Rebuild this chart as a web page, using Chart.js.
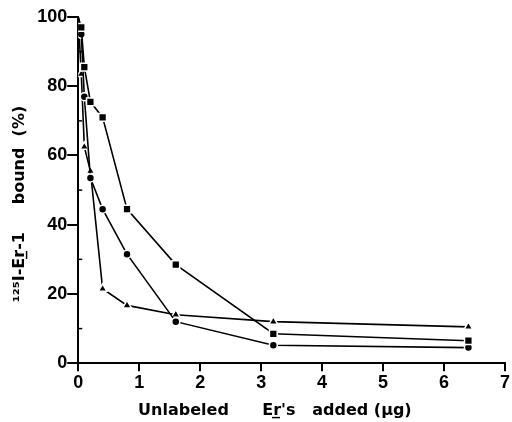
<!DOCTYPE html>
<html lang="en">
<head>
  <meta charset="UTF-8">
  <title>Er-1 binding displacement</title>
  <script src="https://cdn.jsdelivr.net/npm/chart.js"></script>
  <style>
    body { margin: 0; background: #fff; }
    .wrap { width: 512px; height: 422px; }
  </style>
</head>
<body>
  <div class="wrap"><canvas id="bindChart" width="512" height="422"></canvas></div>

  <script>
    // amount of unlabeled Er added (ug)
    const doses = [0, 0.05, 0.1, 0.2, 0.4, 0.8, 1.6, 3.2, 6.4];

    // percent bound
    const squareVals   = [100, 97, 85.5, 75.5, 71, 44.5, 28.5, 8.5, 6.5];
    const circleVals   = [100, 95, 77, 53.5, 44.5, 31.5, 12, 5.2, 4.5];
    const triangleVals = [100, 83.5, 62.5, 55.5, 21.5, 16.7, 14, 12, 10.5];

    const xTicks = [0, 1, 2, 3, 4, 5, 6, 7];
    const yTicks = [0, 20, 40, 60, 80, 100];
    const yMinor = [10, 30, 50, 70, 90];

    const TICK_FONT = "'Liberation Sans', Arial, sans-serif";
    const TITLE_FONT = "'DejaVu Sans', sans-serif";
    const NB = '\u00a0';

    function makeSet(label, vals, style, r) {
      return {
        label: label,
        data: doses.map((d, i) => ({ x: d, y: vals[i] })),
        showLine: true,
        borderColor: '#000',
        borderWidth: 1.6,
        backgroundColor: '#000',
        pointStyle: style,
        // no marker on the shared starting point at 0
        pointRadius: doses.map(d => d === 0 ? 0 : r),
        pointBorderColor: '#fff',
        pointBorderWidth: 1.5,
        tension: 0
      };
    }

    // small inward ticks between the labelled ones on the y axis
    const minorTicks = {
      id: 'minorTicks',
      afterDraw(chart) {
        const ctx = chart.ctx;
        const ys = chart.scales.y;
        const left = chart.chartArea.left;
        ctx.save();
        ctx.strokeStyle = '#000';
        ctx.lineWidth = 1.5;
        yMinor.forEach(v => {
          const p = ys.getPixelForValue(v);
          ctx.beginPath();
          ctx.moveTo(left, p);
          ctx.lineTo(left + 4, p);
          ctx.stroke();
        });
        ctx.restore();
      }
    };

    new Chart(document.getElementById('bindChart'), {
      type: 'scatter',
      data: {
        datasets: [
          makeSet('square', squareVals, 'rect', 5.5),
          makeSet('circle', circleVals, 'circle', 4),
          makeSet('triangle', triangleVals, 'triangle', 5)
        ]
      },
      options: {
        responsive: false,
        animation: false,
        layout: { padding: { top: 17, right: 5, left: 10, bottom: 2 } },
        plugins: {
          legend: { display: false },
          tooltip: { enabled: false }
        },
        scales: {
          x: {
            type: 'linear',
            min: 0,
            max: 7,
            afterBuildTicks: s => { s.ticks = xTicks.map(v => ({ value: v })); },
            border: { color: '#000', width: 2 },
            grid: { drawOnChartArea: false, color: '#000', lineWidth: 2, tickLength: 8 },
            ticks: { color: '#000', font: { family: TICK_FONT, size: 18, weight: 'bold' }, padding: 1 },
            title: {
              display: true,
              text: 'Unlabeled' + NB.repeat(6) + "Er\u0332's" + NB.repeat(3) + 'added (\u03bcg)' + NB.repeat(6),
              color: '#000',
              font: { family: TITLE_FONT, size: 16, weight: 'bold' },
              padding: { top: 6, bottom: 0 }
            }
          },
          y: {
            min: 0,
            max: 100,
            afterBuildTicks: s => { s.ticks = yTicks.map(v => ({ value: v })); },
            border: { color: '#000', width: 2 },
            grid: { drawOnChartArea: false, color: '#000', lineWidth: 2, tickLength: 11 },
            ticks: { color: '#000', font: { family: TICK_FONT, size: 18, weight: 'bold' }, padding: 0 },
            title: {
              display: true,
              text: '\u00b9\u00b2\u2075I-Er\u0332-1' + NB.repeat(5) + 'bound' + NB.repeat(2) + '(%)' + NB.repeat(5),
              color: '#000',
              font: { family: TITLE_FONT, size: 16, weight: 'bold' },
              padding: { top: 0, bottom: 8 }
            }
          }
        }
      },
      plugins: [minorTicks]
    });
  </script>
</body>
</html>
